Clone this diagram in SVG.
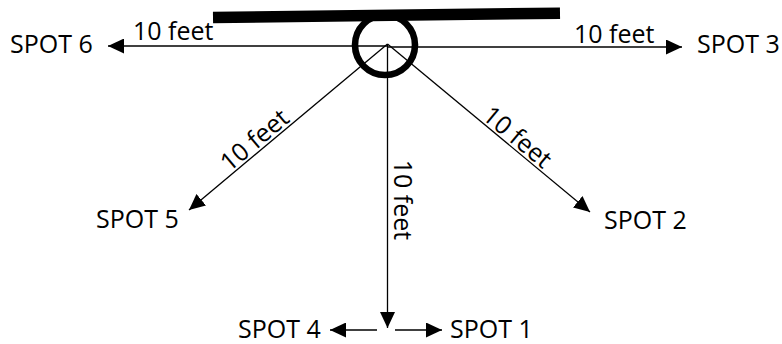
<svg xmlns="http://www.w3.org/2000/svg" width="782" height="344" viewBox="0 0 782 344">
  <defs>
    <marker id="arrow" markerUnits="userSpaceOnUse" markerWidth="17" markerHeight="15" refX="16" refY="7.5" orient="auto">
      <path d="M0,0 L16,7.5 L0,15 z" fill="#000"/>
    </marker>
    <style>
      .lbl { font-family: "Open Sans", "Liberation Sans", sans-serif; font-size: 25px; fill: #000; }
      .conn { stroke: #000; stroke-width: 1.3; fill: none; marker-end: url(#arrow); }
    </style>
  </defs>
  <rect width="782" height="344" fill="#fff"/>

  <g id="bar">
    <line x1="213" y1="17.5" x2="560" y2="13.2" stroke="#000" stroke-width="11.5"/>
  </g>

  <g id="connectors">
    <line class="conn" x1="387.5" y1="46" x2="108" y2="46"/>
    <line class="conn" x1="387.5" y1="47" x2="682" y2="47"/>
    <line class="conn" x1="387.5" y1="44" x2="189" y2="210"/>
    <line class="conn" x1="387.5" y1="44" x2="590" y2="212"/>
    <line class="conn" x1="387.5" y1="44" x2="387.5" y2="328"/>
    <line class="conn" x1="377" y1="330" x2="330" y2="330"/>
    <line class="conn" x1="395" y1="330" x2="442" y2="330"/>
    <text class="lbl" x="133" y="40">10 feet</text>
    <text class="lbl" x="574" y="43">10 feet</text>
    <text class="lbl" text-anchor="middle" transform="translate(262,149) rotate(-40)" x="0" y="-3">10 feet</text>
    <text class="lbl" text-anchor="middle" transform="translate(510,146) rotate(39.6)" x="0" y="-3">10 feet</text>
    <text class="lbl" text-anchor="middle" transform="translate(394,200) rotate(90)" x="0" y="0">10 feet</text>
  </g>

  <g id="pole">
    <circle cx="385" cy="45" r="30" fill="none" stroke="#000" stroke-width="6.6"/>
  </g>

  <g id="spot6"><text class="lbl" x="10" y="53">SPOT 6</text></g>
  <g id="spot3"><text class="lbl" x="697" y="53">SPOT 3</text></g>
  <g id="spot5"><text class="lbl" x="96" y="228">SPOT 5</text></g>
  <g id="spot2"><text class="lbl" x="604" y="229">SPOT 2</text></g>
  <g id="spot4"><text class="lbl" x="238" y="338">SPOT 4</text></g>
  <g id="spot1"><text class="lbl" x="450" y="338">SPOT 1</text></g>
</svg>
